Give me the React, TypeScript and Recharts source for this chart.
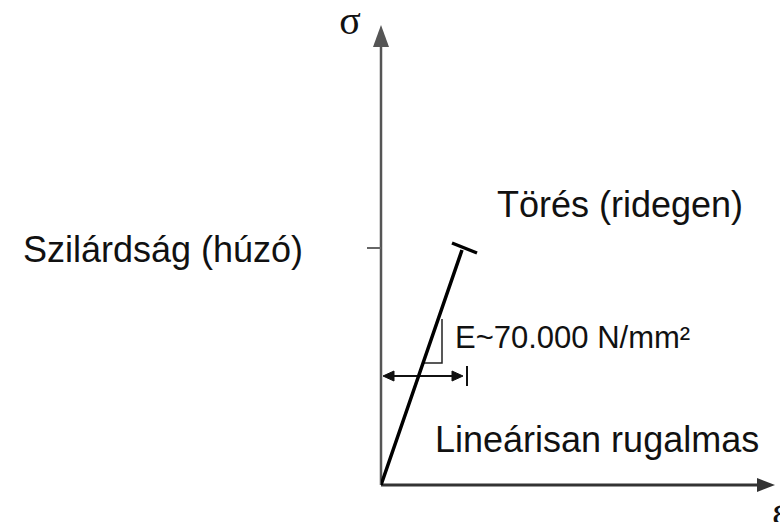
import React from "react";
import {
   ComposedChart,
   Line,
   XAxis,
   YAxis,
   ReferenceLine,
   ReferenceDot,
} from "recharts";

// values, in drawing units (strain → x, stress → y)
const curveStrain = [0, 40, 81];
const curveStress = [0, 116, 235];
const capStrain = [71, 96];
const capStress = [242, 232];
const slopeStrain = [42, 61, 61];
const slopeStress = [122, 122, 166];
const strengthTick = 237;
const strainMax = 394;
const stressMax = 460;

const stressSymbol = "σ";
const strainSymbol = "ε";
const strengthLabel = "Szilárdság (húzó)";
const breakLabel = "Törés (ridegen)";
const elasticLabel = "Lineárisan rugalmas";
const modulusLabel = "E~70.000 N/mm²";

const toPoints = (xs: number[], ys: number[]) =>
   xs.map((e, i) => ({ e, s: ys[i] }));

const curve = toPoints(curveStrain, curveStress);
const cap = toPoints(capStrain, capStress);
const slope = toPoints(slopeStrain, slopeStress);

const SANS = "'Liberation Sans', Arial, sans-serif";
const SERIF = "'Liberation Serif', 'DejaVu Serif', serif";

const arrowShape =
   (color: string, width: number, head: number, half: number) => (p: any) => {
      const { x1, y1, x2, y2 } = p;
      const len = Math.hypot(x2 - x1, y2 - y1);
      const ux = (x2 - x1) / len;
      const uy = (y2 - y1) / len;
      const bx = x2 - ux * head;
      const by = y2 - uy * head;
      return (
         <g>
            <line x1={x1} y1={y1} x2={bx} y2={by} stroke={color} strokeWidth={width} />
            <polygon
               points={`${x2},${y2} ${bx - uy * half},${by + ux * half} ${bx + uy * half},${by - ux * half}`}
               fill={color}
            />
         </g>
      );
   };

const strainSpan = (p: any) => {
   const { x1, y1, x2 } = p;
   const tip = x2 - 4;
   return (
      <g stroke="#111" fill="#111">
         <line x1={x1 + 9} y1={y1} x2={tip - 9} y2={y1} strokeWidth={2} />
         <polygon points={`${x1},${y1} ${x1 + 11},${y1 - 5} ${x1 + 11},${y1 + 5}`} />
         <polygon points={`${tip},${y1} ${tip - 11},${y1 - 5} ${tip - 11},${y1 + 5}`} />
         <line x1={x2} y1={y1 - 10} x2={x2} y2={y1 + 10} strokeWidth={2} />
      </g>
   );
};

const textShape =
   (content: string, anchor: string, size: number, family: string) =>
   (p: any) => (
      <text
         x={p.cx}
         y={p.cy}
         textAnchor={anchor}
         fontSize={size}
         fontFamily={family}
         fill="#111"
      >
         {content}
      </text>
   );

const App: React.FC = () => {
   return (
      <div style={{ position: "absolute", left: 0, top: 0, background: "#fff" }}>
         <ComposedChart
            width={780}
            height={522}
            margin={{ top: 25, right: 5, bottom: 37, left: 381 }}
         >
            <XAxis type="number" dataKey="e" domain={[0, strainMax]} hide allowDataOverflow />
            <YAxis type="number" domain={[0, stressMax]} hide allowDataOverflow />

            <ReferenceLine
               segment={[{ x: 0, y: 0 }, { x: 0, y: stressMax }]}
               ifOverflow="visible"
               shape={arrowShape("#555", 2.5, 22, 8)}
            />
            <ReferenceLine
               segment={[{ x: 0, y: 0 }, { x: strainMax, y: 0 }]}
               ifOverflow="visible"
               shape={arrowShape("#333", 3, 18, 7)}
            />
            <ReferenceLine
               segment={[{ x: -14, y: strengthTick }, { x: 0, y: strengthTick }]}
               ifOverflow="visible"
               stroke="#666"
               strokeWidth={2}
            />
            <ReferenceLine
               segment={[{ x: 2, y: 109 }, { x: 86, y: 109 }]}
               ifOverflow="visible"
               shape={strainSpan}
            />

            <Line
               data={slope}
               dataKey="s"
               stroke="#222"
               strokeWidth={1.5}
               dot={false}
               isAnimationActive={false}
            />
            <Line
               data={curve}
               dataKey="s"
               stroke="#000"
               strokeWidth={3.5}
               dot={false}
               isAnimationActive={false}
            />
            <Line
               data={cap}
               dataKey="s"
               stroke="#000"
               strokeWidth={3.5}
               dot={false}
               isAnimationActive={false}
            />

            <ReferenceDot x={-31} y={451} r={1} ifOverflow="visible"
               shape={textShape(stressSymbol, "middle", 40, SERIF)} />
            <ReferenceDot x={391} y={-40} r={1} ifOverflow="visible"
               shape={textShape(strainSymbol, "start", 42, SERIF)} />
            <ReferenceDot x={-78} y={223} r={1} ifOverflow="visible"
               shape={textShape(strengthLabel, "end", 36, SANS)} />
            <ReferenceDot x={116} y={268} r={1} ifOverflow="visible"
               shape={textShape(breakLabel, "start", 36, SANS)} />
            <ReferenceDot x={54} y={33} r={1} ifOverflow="visible"
               shape={textShape(elasticLabel, "start", 36, SANS)} />
            <ReferenceDot x={74} y={137} r={1} ifOverflow="visible"
               shape={textShape(modulusLabel, "start", 31, SANS)} />
         </ComposedChart>
      </div>
   );
};

export default App;
